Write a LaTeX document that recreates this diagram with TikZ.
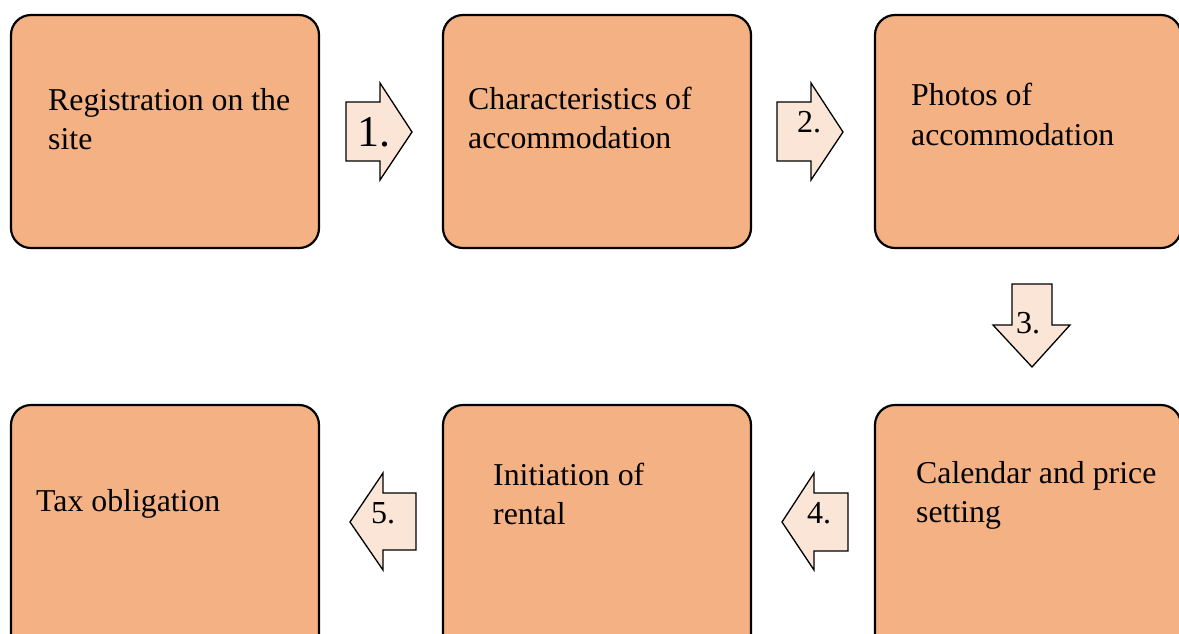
\documentclass[tikz,border=0pt]{standalone}
\usepackage{fontspec}
\setmainfont{Liberation Serif}
\definecolor{boxfill}{HTML}{F4B183}
\definecolor{arrfill}{HTML}{FBE5D6}
\begin{document}
\begin{tikzpicture}[x=1pt,y=-1pt,
  stepbox/.style={draw=black,line width=2.2pt,fill=boxfill,rounded corners=20pt},
  blockarrow/.style={draw=black,line width=1.3pt,fill=arrfill,line join=miter},
  txt/.style={anchor=base west,inner sep=0pt,font=\fontsize{31.8}{40}\selectfont},
  lbl/.style={anchor=base west,inner sep=0pt,font=\fontsize{32}{36}\selectfont}]
\useasboundingbox (0,0) rectangle (1179,633);
\clip (0,0) rectangle (1179,633);
% boxes
\draw[stepbox] (11,15) rectangle (319,248);
\draw[stepbox] (443,15) rectangle (751,248);
\draw[stepbox] (875,15) rectangle (1181,248);
\draw[stepbox] (11,405) rectangle (319,660);
\draw[stepbox] (443,405) rectangle (751,660);
\draw[stepbox] (875,405) rectangle (1181,660);
% box texts
\node[txt] (t1a) at (48,110) {Registration on the};
\node[txt] (t1b) at (48,149) {site};
\node[txt] (t2a) at (468,109) {Characteristics of};
\node[txt] (t2b) at (468,148) {accommodation};
\node[txt] (t3a) at (911,105) {Photos of};
\node[txt] (t3b) at (911,145) {accommodation};
\node[txt] (t6a) at (916,483) {Calendar and price};
\node[txt] (t6b) at (916,522) {setting};
\node[txt] (t5a) at (493,485) {Initiation of};
\node[txt] (t5b) at (493,524) {rental};
\node[txt] (t4a) at (36,511) {Tax obligation};
% block arrows
\draw[blockarrow] (346,102) -- (380,102) -- (380,83) -- (412,132) -- (380,180) -- (380,161) -- (346,161) -- cycle;
\draw[blockarrow] (777,102) -- (811,102) -- (811,83) -- (843,132) -- (811,180) -- (811,161) -- (777,161) -- cycle;
\draw[blockarrow] (1012,284) -- (1052,284) -- (1052,325) -- (1070,325) -- (1032,367) -- (993,325) -- (1012,325) -- cycle;
\draw[blockarrow] (848,493) -- (814,493) -- (814,473) -- (782,522) -- (814,570) -- (814,551) -- (848,551) -- cycle;
\draw[blockarrow] (416,493) -- (383,493) -- (383,473) -- (350,522) -- (383,570) -- (383,550) -- (416,550) -- cycle;
% arrow labels
\node[lbl,font=\fontsize{44}{46}\selectfont] (l1) at (357,146) {1.};
\node[lbl] (l2) at (797,132) {2.};
\node[lbl] (l3) at (1016,333) {3.};
\node[lbl] (l4) at (807,523) {4.};
\node[lbl] (l5) at (371,523) {5.};
\end{tikzpicture}
\end{document}
